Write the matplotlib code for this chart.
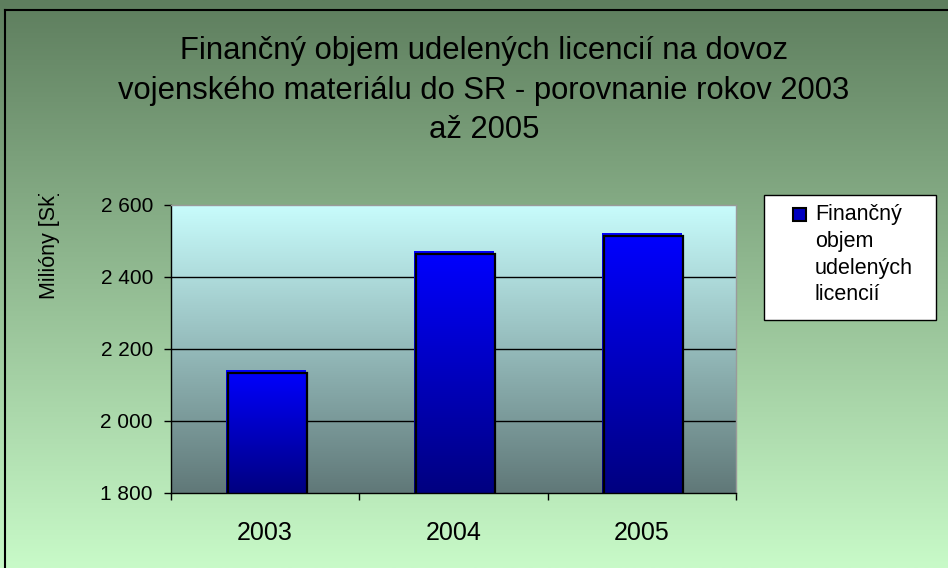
import numpy as np
import matplotlib
matplotlib.use("Agg")
import matplotlib.pyplot as plt
from matplotlib.colors import LinearSegmentedColormap
from matplotlib.patches import Rectangle
from matplotlib.transforms import Bbox, offset_copy
from matplotlib.ticker import FuncFormatter

plt.rcParams['font.family'] = ['Liberation Sans', 'DejaVu Sans']

# data
years = ['2003', '2004', '2005']
values = [2140, 2470, 2520]
title = 'Finančný objem udelených licencií na dovoz\nvojenského materiálu do SR - porovnanie rokov 2003\naž 2005'
ylabel = 'Milióny [Sk]'
legend_label = 'Finančný\nobjem\nudelených\nlicencií'
y_ticks = [1800, 2000, 2200, 2400, 2600]

W, H = 948, 568
fig = plt.figure(figsize=(W / 100, H / 100), dpi=100)

# figure background gradient (dark green top -> light green bottom)
bg = fig.add_axes([0, 0, 1, 1], zorder=-10)
bg_cmap = LinearSegmentedColormap.from_list('bg', ['#c8fac8', '#5e7e5e'])
grad = np.linspace(0, 1, 256).reshape(-1, 1)
bg.imshow(grad, cmap=bg_cmap, aspect='auto', origin='lower', extent=[0, 1, 0, 1])
bg.set_axis_off()

# outer border (top and left visible)
fig.add_artist(plt.Line2D([5 / W, 5 / W], [0, 1 - 10 / H], color='black', lw=1.5, transform=fig.transFigure))
fig.add_artist(plt.Line2D([5 / W, 1], [1 - 10 / H, 1 - 10 / H], color='black', lw=1.5, transform=fig.transFigure))

ax = fig.add_axes([171 / W, 1 - 493 / H, (736 - 171) / W, (493 - 205) / H])

# plot area gradient
plot_cmap = LinearSegmentedColormap.from_list('pa', ['#607878', '#c8fcfc'])
ax.imshow(grad, cmap=plot_cmap, aspect='auto', origin='lower',
          extent=[-0.5, 2.5, 1800, 2600], zorder=0)

for t in y_ticks[1:-1]:
    ax.axhline(t, color='black', lw=1, zorder=1)

bar_cmap = LinearSegmentedColormap.from_list('bar', ['#000080', '#0000ff'])
bw = 0.42
x = np.arange(len(years))
outline_tr = offset_copy(ax.transData, fig=fig, x=2, y=-2, units='dots')
for xi, v in zip(x, values):
    ax.imshow(grad, cmap=bar_cmap, aspect='auto', origin='lower',
              extent=[xi - bw / 2, xi + bw / 2, 1800, v], zorder=2)
    ax.add_patch(Rectangle((xi - bw / 2, 1800), bw, v - 1800, fill=False,
                           edgecolor='black', lw=1.6, transform=outline_tr, zorder=3))

ax.set_xlim(-0.5, 2.5)
ax.set_ylim(1800, 2600)
ax.set_xticks(x)
ax.set_xticklabels(years, fontsize=18)
ax.set_xticks(np.arange(-0.5, 2.6, 1), minor=True)
ax.tick_params(axis='x', which='major', length=0, pad=20)
ax.tick_params(axis='x', which='minor', length=5, width=1, color='black', direction='out')
ax.set_yticks(y_ticks)
ax.yaxis.set_major_formatter(FuncFormatter(lambda v, p: f'{int(v):,}'.replace(',', ' ')))
ax.tick_params(axis='y', length=5, width=1, pad=8, labelsize=15, direction='out')

ax.spines['left'].set_color('black')
ax.spines['bottom'].set_color('black')
ax.spines['top'].set_color('#9a9a9a')
ax.spines['right'].set_color('#9a9a9a')
for s in ax.spines.values():
    s.set_linewidth(1)

fig.text(484 / W, 1 - 36 / H, title, ha='center', va='top', fontsize=22.3, linespacing=1.42)

# y label, clipped at the top like in the original
yl = fig.text(50 / W, 1 - 299 / H, ylabel, rotation=90, ha='center', va='bottom', fontsize=15.5)
yl.set_clip_on(True)
yl.set_clip_box(Bbox([[0, 0], [W, H - 194]]))

# legend
fig.add_artist(Rectangle((764 / W, 1 - 320 / H), (936 - 764) / W, (320 - 195) / H,
                         transform=fig.transFigure, facecolor='white', edgecolor='black', lw=1))
fig.add_artist(Rectangle((793 / W, 1 - 221 / H), 13 / W, 13 / H, transform=fig.transFigure,
                         facecolor='#0000c0', edgecolor='black', lw=1.5))
fig.text(815 / W, 1 - 204 / H, legend_label, ha='left', va='top', fontsize=15.5, linespacing=1.36)

fig.savefig('out.png', dpi=100)
